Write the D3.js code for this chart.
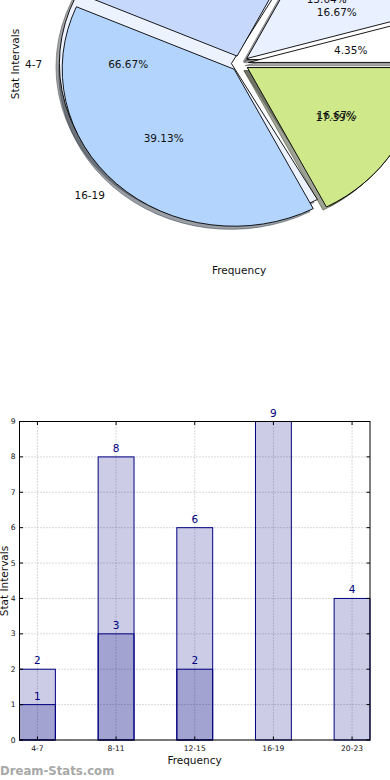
<!DOCTYPE html>
<html>
<head>
<meta charset="utf-8">
<script src="https://cdn.jsdelivr.net/npm/d3@7"></script>
<style>
  html, body { margin: 0; padding: 0; background: #fff; }
  svg { display: block; }
  text { font-family: "DejaVu Sans", sans-serif; }
</style>
</head>
<body>
<svg id="chart" width="390" height="780"></svg>
<script>
// ---------- data ----------
const categories = ["4-7", "8-11", "12-15", "16-19", "20-23"];
// pie (upper panel): two overlaid pies
const pieAValues = [1, 3, 6, 9, 4];
const pieALabels = ["4-7", "8-11", "12-15", "16-19", "20-23"];
const pieAColors = ["#ffffff", "#e9f0ff", "#c6d9fd", "#b3d5fd", "#cfe98a"];
const pieBValues = [1, 4, 1];
const pieBLabels = ["8-11", "4-7", "12-15"];
const pieBColors = ["#ffffff", "#edf2ff", "#f4f7ff"];
// bars (lower panel)
const seriesA = [2, 8, 6, 9, 4];
const seriesB = [1, 3, 2, 0, 0];
const yTicks = [0, 1, 2, 3, 4, 5, 6, 7, 8, 9];

const W = 390, H = 780;
const svg = d3.select("#chart");

// ---------- pie panel ----------
const cx = 240, cy = 63.5, Rx = 172, Ry = 157;
const explode = 0.05, shadowOff = 0.02;
const pieGen = d3.pie().sort(null).value(d => d).startAngle(Math.PI / 2).endAngle(Math.PI / 2 - 2 * Math.PI);
const arcGen = d3.arc().innerRadius(0).outerRadius(1);
const arcsA = pieGen(pieAValues);
const arcsB = pieGen(pieBValues);

function mid(a) { return (a.startAngle + a.endAngle) / 2; }
function off(a, r) { const m = mid(a); return [r * Rx * Math.sin(m), -r * Ry * Math.cos(m)]; }
function shade(c) { const k = d3.rgb(c); return d3.rgb(k.r * 0.3, k.g * 0.3, k.b * 0.3).toString(); }

const pieG = svg.append("g");
function drawShadows(arcs, colors) {
  arcs.forEach((a, i) => {
    const o = off(a, explode);
    pieG.append("path")
      .attr("d", arcGen(a))
      .attr("transform", `translate(${cx + o[0] - shadowOff * Rx},${cy + o[1] + shadowOff * Ry}) scale(${Rx},${Ry})`)
      .attr("fill", shade(colors[i])).attr("fill-opacity", 0.5)
      .attr("stroke", shade(colors[i])).attr("stroke-opacity", 0.5)
      .attr("stroke-width", 1).attr("vector-effect", "non-scaling-stroke");
  });
}
function drawWedges(arcs, colors) {
  arcs.forEach((a, i) => {
    const o = off(a, explode);
    pieG.append("path")
      .attr("d", arcGen(a))
      .attr("transform", `translate(${cx + o[0]},${cy + o[1]}) scale(${Rx},${Ry})`)
      .attr("fill", colors[i])
      .attr("stroke", "#000").attr("stroke-width", 0.9).attr("vector-effect", "non-scaling-stroke")
      .attr("stroke-linejoin", "miter");
  });
}
drawShadows(arcsB, pieBColors);
drawShadows(arcsA, pieAColors);
drawWedges(arcsB, pieBColors);
drawWedges(arcsA, pieAColors);

function drawTexts(arcs, labels) {
  const total = d3.sum(arcs, a => a.value);
  arcs.forEach((a, i) => {
    const e = off(a, explode);
    const p = off(a, 0.6);
    const px = cx + e[0] + p[0], py = cy + e[1] + p[1];
    if (px < W + 10 && py > -8) {
      pieG.append("text")
        .attr("x", px).attr("y", py)
        .attr("text-anchor", "middle").attr("dominant-baseline", "central")
        .attr("font-size", 10.5).attr("fill", "#111")
        .text((a.value / total * 100).toFixed(2) + "%");
    }
    const l = off(a, 1.1);
    const lx = cx + e[0] + l[0], ly = cy + e[1] + l[1];
    // only labels whose anchor falls inside the visible canvas are shown (as in the reference)
    if (lx > 0 && lx < W && ly > 0 && ly < H) {
      pieG.append("text")
        .attr("x", lx).attr("y", ly)
        .attr("text-anchor", l[0] > 0 ? "start" : "end").attr("dominant-baseline", "central")
        .attr("font-size", 10.5).attr("fill", "#111")
        .text(labels[i]);
    }
  });
}
drawTexts(arcsB, pieBLabels);
drawTexts(arcsA, pieALabels);

svg.append("text").attr("x", 239).attr("y", 269.5)
  .attr("text-anchor", "middle").attr("dominant-baseline", "central")
  .attr("font-size", 10.5).attr("fill", "#111").text("Frequency");
svg.append("text").attr("transform", "translate(15,64) rotate(-90)")
  .attr("text-anchor", "middle").attr("dominant-baseline", "central")
  .attr("font-size", 10.5).attr("fill", "#111").text("Stat Intervals");

// ---------- bar panel ----------
const L = 19.5, R = 370, T = 421.5, B = 740;
const half = 0.228;
const x = d3.scaleLinear().domain([-half, categories.length - 1 + half]).range([L, R]);
const y = d3.scaleLinear().domain([0, 9]).range([B, T]);

const barG = svg.append("g");
// grid
barG.selectAll("line.hg").data(yTicks).join("line")
  .attr("x1", L).attr("x2", R).attr("y1", d => y(d)).attr("y2", d => y(d))
  .attr("stroke", "#b3b3b3").attr("stroke-width", 1).attr("stroke-dasharray", "1,2");
barG.selectAll("line.vg").data(categories).join("line")
  .attr("x1", (d, i) => x(i)).attr("x2", (d, i) => x(i)).attr("y1", T).attr("y2", B)
  .attr("stroke", "#b3b3b3").attr("stroke-width", 1).attr("stroke-dasharray", "1,2");

function drawBars(vals) {
  vals.forEach((v, i) => {
    if (!v) return;
    barG.append("rect")
      .attr("x", x(i - half)).attr("width", x(i + half) - x(i - half))
      .attr("y", y(v)).attr("height", y(0) - y(v))
      .attr("fill", "rgba(0,0,128,0.2)").attr("stroke", "#000080").attr("stroke-width", 1);
  });
}
drawBars(seriesA);
drawBars(seriesB);

function drawBarLabels(vals) {
  vals.forEach((v, i) => {
    if (!v) return;
    barG.append("text").attr("x", x(i)).attr("y", y(v) - 5)
      .attr("text-anchor", "middle").attr("font-size", 10.5).attr("fill", "#000080").text(v);
  });
}
drawBarLabels(seriesA);
drawBarLabels(seriesB);

// frame
barG.append("rect").attr("x", L).attr("y", T).attr("width", R - L).attr("height", B - T)
  .attr("fill", "none").attr("stroke", "#000").attr("stroke-width", 1);

// ticks (inward)
const tl = 3.5;
yTicks.forEach(t => {
  barG.append("line").attr("x1", L).attr("x2", L + tl).attr("y1", y(t)).attr("y2", y(t)).attr("stroke", "#000");
  barG.append("line").attr("x1", R).attr("x2", R - tl).attr("y1", y(t)).attr("y2", y(t)).attr("stroke", "#000");
});
categories.forEach((c, i) => {
  barG.append("line").attr("x1", x(i)).attr("x2", x(i)).attr("y1", B).attr("y2", B - tl).attr("stroke", "#000");
  barG.append("line").attr("x1", x(i)).attr("x2", x(i)).attr("y1", T).attr("y2", T + tl).attr("stroke", "#000");
});

// tick labels
barG.selectAll("text.yt").data(yTicks).join("text")
  .attr("x", L - 4).attr("y", d => y(d)).attr("text-anchor", "end").attr("dominant-baseline", "central")
  .attr("font-size", 7.6).attr("fill", "#111").text(d => d);
barG.selectAll("text.xt").data(categories).join("text")
  .attr("x", (d, i) => x(i)).attr("y", B + 8).attr("text-anchor", "middle").attr("dominant-baseline", "central")
  .attr("font-size", 7.6).attr("fill", "#111").text(d => d);

svg.append("text").attr("x", 194.5).attr("y", 760)
  .attr("text-anchor", "middle").attr("dominant-baseline", "central")
  .attr("font-size", 10.5).attr("fill", "#111").text("Frequency");
svg.append("text").attr("transform", "translate(3.5,581) rotate(-90)")
  .attr("text-anchor", "middle").attr("dominant-baseline", "central")
  .attr("font-size", 10.5).attr("fill", "#111").text("Stat Intervals");

// watermark
svg.append("text").attr("x", 0).attr("y", 774.5)
  .attr("font-size", 11.7).attr("fill", "#a8a8a8").attr("font-weight", 600).text("Dream-Stats.com");
</script>
</body>
</html>
